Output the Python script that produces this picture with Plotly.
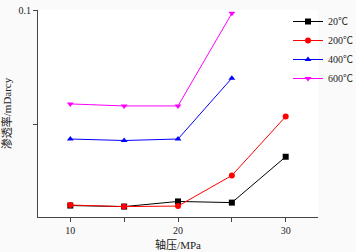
import plotly.graph_objects as go

pressure = [10, 15, 20, 25, 30]
perm_20 = [0.00198, 0.00194, 0.00215, 0.00210, 0.00527]
perm_200 = [0.00200, 0.00194, 0.00196, 0.00362, 0.0118]
pressure_hi = [10, 15, 20, 25]
perm_400 = [0.00752, 0.00730, 0.00752, 0.0255]
perm_600 = [0.0152, 0.0146, 0.0146, 0.0936]

series = [
    ("20℃", pressure, perm_20, "#000000", "square"),
    ("200℃", pressure, perm_200, "#ff0000", "circle"),
    ("400℃", pressure_hi, perm_400, "#0000ff", "triangle-up"),
    ("600℃", pressure_hi, perm_600, "#ff00ff", "triangle-down"),
]

font_fam = "Liberation Serif, Times New Roman, Noto Sans CJK SC, serif"

fig = go.Figure()
for name, x, y, c, sym in series:
    fig.add_trace(go.Scatter(
        x=x, y=y, name=name, mode="lines+markers",
        line=dict(color=c, width=1),
        marker=dict(symbol=sym, size=6, color=c),
    ))

W, H = 356, 252
ML, MR, MT, MB = 38, 38, 10, 35
pw, ph = W - ML - MR, H - MT - MB

fig.update_layout(
    width=W, height=H,
    margin=dict(l=ML, r=MR, t=MT, b=MB, autoexpand=False),
    paper_bgcolor="#fafafa",
    plot_bgcolor="#ffffff",
    font=dict(family=font_fam, size=10, color="#222222"),
    showlegend=True,
    legend=dict(
        x=(288 - ML) / pw, y=(H - MB - 7) / ph,
        xanchor="left", yanchor="top",
        bgcolor="rgba(0,0,0,0)", borderwidth=0,
        font=dict(family=font_fam, size=10, color="#222222"),
        itemwidth=30, tracegroupgap=0,
    ),
    xaxis=dict(
        range=[7, 33], tickvals=[10, 15, 20, 25, 30], ticktext=["10", "", "20", "", "30"],
        showgrid=False, zeroline=False, showline=True, linecolor="#444444", linewidth=1,
        ticks="outside", ticklen=4, tickcolor="#444444", ticklabeloverflow="allow",
        title=dict(text="轴压/MPa", font=dict(family=font_fam, size=11), standoff=6),
    ),
    yaxis=dict(
        type="log", range=[-2.803, -1.0],
        tickvals=[0.01, 0.1], ticktext=["", "0.1"],
        showgrid=False, zeroline=False, showline=True, linecolor="#444444", linewidth=1,
        ticks="outside", ticklen=4, tickcolor="#444444", ticklabeloverflow="allow",
        title=dict(text="渗透率/mDarcy", font=dict(family=font_fam, size=11), standoff=8),
    ),
)

fig.write_html("out.html", config={"displayModeBar": False},
               post_script="document.body.style.margin='0';")
